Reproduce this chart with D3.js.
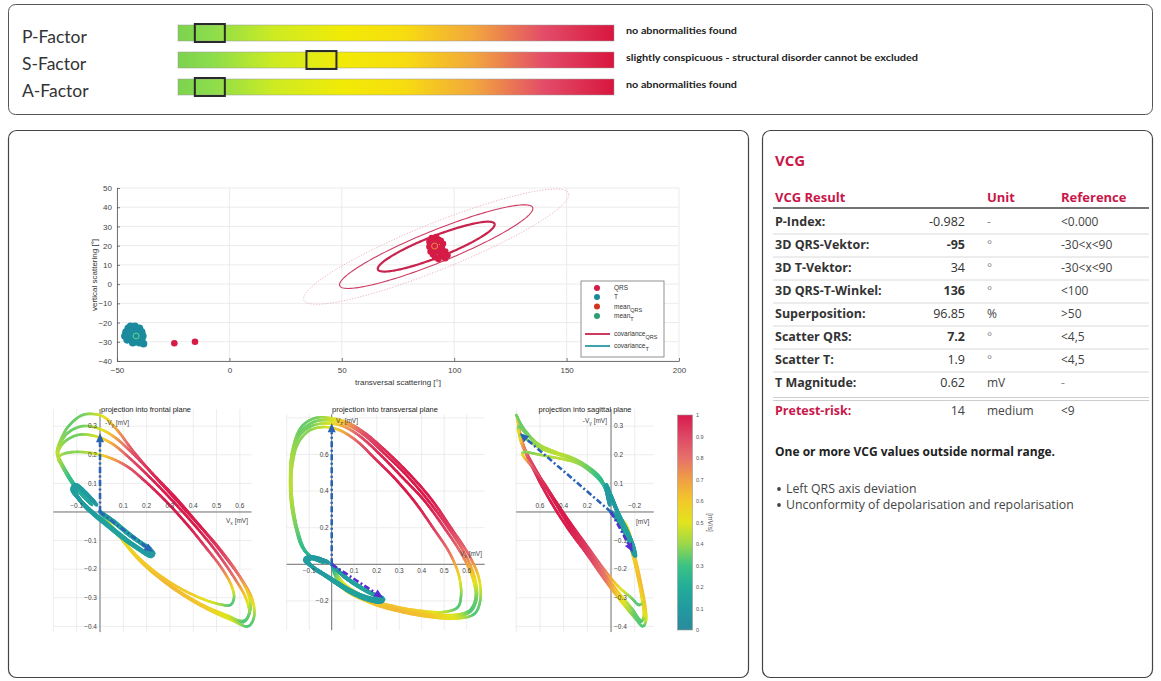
<!DOCTYPE html>
<html>
<head>
<meta charset="utf-8">
<script src="https://cdn.jsdelivr.net/npm/d3@7"></script>
<style>
  html, body { margin: 0; padding: 0; background: #ffffff; }
  svg { display: block; }
</style>
</head>
<body>
<svg id="chart" width="1161" height="681"></svg>
<script>
// ---------- data ----------
const factorNames = ['P-Factor', 'S-Factor', 'A-Factor'];
const factorScores = [0.073, 0.329, 0.073];
const factorTexts = ['no abnormalities found',
  'slightly conspicuous - structural disorder cannot be excluded',
  'no abnormalities found'];

// scatter of vector angles [transversal, vertical] in degrees
const qrsAngles = [[89,22],[90,24],[91,23.5],[92,24.5],[93,23],[94,22.5],[95,21],[94.5,19],[96,17],[97,15],[96,13.5],[94,14.5],[93,13],[91.5,14],[90.5,15.5],[89.5,17],[89,19.5],[90,20],[91,18],[92.5,17],[93.5,18.5],[92,21],[95,16],[90.5,21.5],[-24.5,-30.8],[-15.3,-30]];
const tAngles = [[-46,-25],[-45,-23],[-44,-22],[-43,-23.5],[-42,-22],[-41,-24],[-40,-23],[-39,-25],[-38.5,-27],[-39,-29],[-40,-30.5],[-41,-29],[-42,-30],[-43,-29],[-44.5,-28],[-46.5,-27],[-45,-26],[-43.5,-26],[-42,-27],[-40.5,-26.5],[-44,-24.5],[-41.5,-25],[-40,-28],[-38.2,-31],[-43,-30.5],[-45.5,-29]];
const meanQrs = [91.3, 19.8];
const meanT = [-41.5, -27];
// covariance ellipses of QRS: centre, major half-axis, vertical half-axis
const covCenter = [92, 19.5];
const covMajor = [[26, 11.5], [43, 19.8], [59, 27]];
const covMinor = [[0, 6], [0, 9], [0, 13]];
const scatterXTicks = [-50, 0, 50, 100, 150, 200];
const scatterYTicks = [-40, -30, -20, -10, 0, 10, 20, 30, 40, 50];

// VCG loops: [Vx, -Vy, Vz, speed] (mV, normalised mV/s)
const qrsLoop1 = [[0,0,0,0.15],[0.04,-0.04,-0.12,0.5],[0.17,-0.17,-0.21,0.6],[0.31,-0.265,-0.26,0.64],[0.45,-0.335,-0.29,0.6],[0.57,-0.38,-0.295,0.48],[0.635,-0.40,-0.27,0.32],[0.66,-0.37,-0.20,0.35],[0.655,-0.31,-0.08,0.55],[0.615,-0.245,0.04,0.78],[0.53,-0.15,0.20,0.92],[0.44,-0.06,0.36,1.0],[0.34,0.03,0.50,1.0],[0.24,0.12,0.62,0.97],[0.145,0.21,0.72,0.88],[0.07,0.29,0.775,0.7],[0.01,0.335,0.795,0.5],[-0.07,0.34,0.80,0.36],[-0.135,0.30,0.75,0.34],[-0.175,0.24,0.62,0.4],[-0.185,0.21,0.47,0.45],[-0.18,0.19,0.33,0.42],[-0.16,0.16,0.20,0.36],[-0.13,0.12,0.09,0.28],[-0.09,0.07,0.04,0.22],[-0.04,0.03,0.01,0.16]];
const qrsLoop2 = [[0,0,0,0.15],[0.05,-0.05,-0.11,0.5],[0.17,-0.165,-0.2,0.6],[0.30,-0.255,-0.245,0.64],[0.44,-0.325,-0.27,0.6],[0.555,-0.365,-0.275,0.48],[0.615,-0.385,-0.25,0.32],[0.64,-0.355,-0.18,0.35],[0.625,-0.30,-0.07,0.55],[0.58,-0.235,0.05,0.78],[0.50,-0.14,0.20,0.92],[0.41,-0.05,0.35,1.0],[0.31,0.04,0.48,1.0],[0.215,0.12,0.60,0.97],[0.125,0.19,0.70,0.88],[0.05,0.24,0.755,0.68],[-0.02,0.265,0.77,0.48],[-0.09,0.27,0.755,0.36],[-0.145,0.25,0.70,0.36],[-0.175,0.22,0.58,0.42],[-0.18,0.20,0.44,0.45],[-0.17,0.18,0.30,0.4],[-0.15,0.15,0.18,0.34],[-0.12,0.11,0.08,0.26],[-0.08,0.065,0.03,0.2],[-0.035,0.025,0.01,0.15]];
const qrsLoop3 = [[0,0,0,0.15],[0.05,-0.05,-0.10,0.5],[0.16,-0.155,-0.185,0.58],[0.28,-0.235,-0.23,0.62],[0.40,-0.29,-0.255,0.58],[0.50,-0.32,-0.26,0.45],[0.56,-0.325,-0.235,0.32],[0.575,-0.30,-0.17,0.35],[0.565,-0.26,-0.06,0.55],[0.525,-0.2,0.06,0.78],[0.45,-0.12,0.20,0.92],[0.37,-0.04,0.34,1.0],[0.28,0.04,0.47,1.0],[0.19,0.11,0.58,0.95],[0.115,0.16,0.67,0.85],[0.04,0.19,0.73,0.66],[-0.03,0.205,0.75,0.47],[-0.10,0.21,0.73,0.38],[-0.15,0.205,0.66,0.38],[-0.175,0.195,0.54,0.42],[-0.18,0.185,0.41,0.45],[-0.17,0.17,0.28,0.4],[-0.15,0.14,0.17,0.34],[-0.12,0.10,0.075,0.26],[-0.08,0.06,0.03,0.2],[-0.035,0.025,0.01,0.15]];
const qrsLoop4 = [[0,0,0,0.15],[0.045,-0.045,-0.115,0.5],[0.17,-0.168,-0.205,0.6],[0.305,-0.26,-0.25,0.64],[0.445,-0.33,-0.28,0.6],[0.56,-0.37,-0.285,0.48],[0.62,-0.38,-0.255,0.32],[0.645,-0.34,-0.18,0.35],[0.635,-0.285,-0.07,0.55],[0.595,-0.22,0.05,0.78],[0.515,-0.13,0.205,0.92],[0.425,-0.045,0.355,1.0],[0.33,0.045,0.49,1.0],[0.23,0.13,0.61,0.97],[0.14,0.205,0.71,0.88],[0.065,0.26,0.765,0.7],[0.0,0.29,0.785,0.48],[-0.075,0.30,0.78,0.36],[-0.14,0.275,0.72,0.35],[-0.175,0.23,0.60,0.41],[-0.183,0.205,0.455,0.45],[-0.175,0.185,0.315,0.41],[-0.155,0.155,0.19,0.35],[-0.125,0.115,0.085,0.27],[-0.085,0.068,0.035,0.21],[-0.04,0.028,0.01,0.15]];
const tLoop1 = [[0,0,0,0.1],[0.06,-0.035,-0.07,0.13],[0.12,-0.075,-0.12,0.16],[0.18,-0.11,-0.16,0.15],[0.225,-0.14,-0.185,0.12],[0.215,-0.15,-0.20,0.1],[0.16,-0.125,-0.19,0.12],[0.09,-0.085,-0.155,0.14],[0.03,-0.045,-0.11,0.14],[-0.03,-0.005,-0.06,0.12],[-0.08,0.035,-0.02,0.1],[-0.11,0.075,0.02,0.12],[-0.10,0.09,0.035,0.12],[-0.06,0.065,0.03,0.1],[-0.02,0.03,0.015,0.08]];
const tLoop2 = [[0,0,0,0.1],[0.055,-0.03,-0.065,0.13],[0.115,-0.07,-0.115,0.16],[0.17,-0.105,-0.155,0.15],[0.215,-0.13,-0.18,0.12],[0.20,-0.14,-0.19,0.1],[0.145,-0.115,-0.175,0.12],[0.08,-0.075,-0.14,0.14],[0.02,-0.035,-0.095,0.14],[-0.04,0.005,-0.05,0.12],[-0.09,0.045,-0.01,0.1],[-0.12,0.08,0.025,0.12],[-0.105,0.095,0.04,0.12],[-0.065,0.07,0.035,0.1],[-0.025,0.035,0.015,0.08]];
const tLoop3 = [[0,0,0,0.1],[0.065,-0.04,-0.075,0.13],[0.125,-0.08,-0.125,0.16],[0.185,-0.115,-0.165,0.15],[0.23,-0.145,-0.19,0.12],[0.22,-0.155,-0.205,0.1],[0.165,-0.13,-0.195,0.12],[0.095,-0.09,-0.16,0.14],[0.035,-0.05,-0.115,0.14],[-0.025,-0.01,-0.065,0.12],[-0.075,0.03,-0.025,0.1],[-0.105,0.07,0.015,0.12],[-0.095,0.085,0.03,0.12],[-0.055,0.06,0.025,0.1],[-0.015,0.025,0.01,0.08]];
const qrsVector = [0, 0.275, 0.77];
const tVector = [0.228, -0.14, -0.183];

const speedTicks = [0, 0.1, 0.2, 0.3, 0.4, 0.5, 0.6, 0.7, 0.8, 0.9, 1];
const speedColors = ['#2b8a9c','#229aa0','#22ad98','#3cc285','#9bd84a','#e2e41e','#f3c82a','#ef9f44','#e6706a','#de4766','#d81c4c'];

const vcgLabels = ['P-Index:', '3D QRS-Vektor:', '3D T-Vektor:', '3D QRS-T-Winkel:', 'Superposition:', 'Scatter QRS:', 'Scatter T:', 'T Magnitude:'];
const vcgValues = ['-0.982', '-95', '34', '136', '96.85', '7.2', '1.9', '0.62'];
const vcgBold = [false, true, false, true, false, true, false, false];
const vcgUnits = ['-', '°', '°', '°', '%', '°', '°', 'mV'];
const vcgRefs = ['<0.000', '-30<x<90', '-30<x<90', '<100', '>50', '<4,5', '<4,5', '-'];
const riskRow = ['Pretest-risk:', '14', 'medium', '<9'];
const findings = ['Left QRS axis deviation', 'Unconformity of depolarisation and repolarisation'];

// ---------- drawing ----------
const svg = d3.select('#chart');
const defs = svg.append('defs');
const CRIMSON = '#c8174a';
const sansUI = 'Lato, "Open Sans", sans-serif';
const sansTable = '"Open Sans", Lato, sans-serif';
const sansPlot = '"Liberation Sans", Arial, sans-serif';

// panels
svg.append('rect').attr('x', 8.5).attr('y', 4.5).attr('width', 1144).attr('height', 110)
  .attr('rx', 7).attr('fill', 'none').attr('stroke', '#555').attr('stroke-width', 1);
svg.append('rect').attr('x', 8.5).attr('y', 130.5).attr('width', 740).attr('height', 547)
  .attr('rx', 8).attr('fill', 'none').attr('stroke', '#444').attr('stroke-width', 1.2);
svg.append('rect').attr('x', 762.5).attr('y', 130.5).attr('width', 390).attr('height', 547)
  .attr('rx', 8).attr('fill', 'none').attr('stroke', '#444').attr('stroke-width', 1.2);

// ---- factor bars ----
const barGrad = defs.append('linearGradient').attr('id', 'barGrad');
[[0, '#7dd24e'], [0.08, '#8ddd4c'], [0.22, '#cdeb22'], [0.38, '#f2ea06'], [0.52, '#f7dc10'],
 [0.68, '#f2a63e'], [0.84, '#e34c68'], [1, '#d8163e']].forEach(s =>
  barGrad.append('stop').attr('offset', s[0]).attr('stop-color', s[1]));

const barX = d3.scaleLinear().domain([0, 1]).range([178, 614]);
const barY = d3.scaleBand().domain(factorNames).range([25, 95]).paddingInner(11 / 27).paddingOuter(0);
factorNames.forEach((name, i) => {
  const y = barY(name);
  const h = barY.bandwidth();
  svg.append('text').attr('x', 22).attr('y', y + h / 2 + 10).text(name)
    .attr('font-family', sansUI).attr('font-size', 17.5).attr('fill', '#333');
  svg.append('rect').attr('x', barX(0)).attr('y', y).attr('width', barX(1) - barX(0)).attr('height', h)
    .attr('fill', 'url(#barGrad)').attr('stroke', '#9a9a9a').attr('stroke-width', 0.5);
  const w = 30;
  svg.append('rect').attr('x', barX(factorScores[i]) - w / 2).attr('y', y - 1).attr('width', w).attr('height', h + 2)
    .attr('fill', 'none').attr('stroke', '#2a2a2a').attr('stroke-width', 2);
  const t = svg.append('text').attr('x', 626).attr('y', y + 8.5).text(factorTexts[i])
    .attr('font-family', sansUI).attr('font-size', 9.5).attr('font-weight', 700).attr('fill', '#222');
  t.attr('textLength', i === 1 ? 292 : 111).attr('lengthAdjust', 'spacingAndGlyphs');
});

// ---- scatter plot of angles ----
const sx = d3.scaleLinear().domain([-50, 200]).range([117, 679]);
const sy = d3.scaleLinear().domain([-40, 50]).range([361, 188]);
const sc = svg.append('g');
sc.append('g').selectAll('line').data(scatterXTicks).join('line')
  .attr('x1', d => sx(d)).attr('x2', d => sx(d)).attr('y1', sy(-40)).attr('y2', sy(50))
  .attr('stroke', '#e6e6e6').attr('stroke-width', 0.8);
sc.append('g').selectAll('line').data(scatterYTicks).join('line')
  .attr('x1', sx(-50)).attr('x2', sx(200)).attr('y1', d => sy(d)).attr('y2', d => sy(d))
  .attr('stroke', '#e6e6e6').attr('stroke-width', 0.8);

const xAxis = d3.axisBottom(sx).tickValues(scatterXTicks).tickSizeInner(-3).tickSizeOuter(0).tickPadding(6);
const yAxis = d3.axisLeft(sy).tickValues(scatterYTicks).tickSizeInner(-3).tickSizeOuter(0).tickPadding(5);
const gx = sc.append('g').attr('transform', `translate(0,${sy(-40)})`).call(xAxis);
const gy = sc.append('g').attr('transform', `translate(${sx(-50)},0)`).call(yAxis);
[gx, gy].forEach(g => {
  g.select('.domain').attr('stroke', '#555').attr('stroke-width', 0.8);
  g.selectAll('.tick line').attr('stroke', '#555').attr('stroke-width', 0.8);
  g.selectAll('.tick text').attr('font-family', sansPlot).attr('font-size', 8).attr('fill', '#444');
});
sc.append('text').attr('x', 398).attr('y', 385).attr('text-anchor', 'middle')
  .attr('font-family', sansPlot).attr('font-size', 8).attr('fill', '#333').text('transversal scattering  [°]');
sc.append('text').attr('transform', `translate(97,275) rotate(-90)`).attr('text-anchor', 'middle')
  .attr('font-family', sansPlot).attr('font-size', 8).attr('fill', '#333').text('vertical scattering [°]');

// covariance ellipses (drawn as parametric curves in data space)
const ellStyles = [
  { w: 2.2, c: '#c8244e', dash: null },
  { w: 1.1, c: '#cf3c62', dash: null },
  { w: 0.9, c: '#e7a9b8', dash: '1.2,1.6' }
];
const tSteps = d3.range(0, 2 * Math.PI + 0.001, Math.PI / 90);
covMajor.forEach((a, k) => {
  const b = covMinor[k];
  const pts = tSteps.map(t => [sx(covCenter[0] + a[0] * Math.cos(t) + b[0] * Math.sin(t)),
                               sy(covCenter[1] + a[1] * Math.cos(t) + b[1] * Math.sin(t))]);
  sc.append('path').attr('d', d3.line()(pts)).attr('fill', 'none')
    .attr('stroke', ellStyles[k].c).attr('stroke-width', ellStyles[k].w)
    .attr('stroke-dasharray', ellStyles[k].dash);
});
sc.append('g').selectAll('circle').data(tAngles).join('circle')
  .attr('cx', d => sx(d[0])).attr('cy', d => sy(d[1])).attr('r', 3.8).attr('fill', '#1b8a9d');
sc.append('g').selectAll('circle').data(qrsAngles).join('circle')
  .attr('cx', d => sx(d[0])).attr('cy', d => sy(d[1])).attr('r', 3.3).attr('fill', '#d41c46');
sc.append('circle').attr('cx', sx(meanQrs[0])).attr('cy', sy(meanQrs[1])).attr('r', 3)
  .attr('fill', 'none').attr('stroke', '#f08a3a').attr('stroke-width', 1);
sc.append('circle').attr('cx', sx(meanT[0])).attr('cy', sy(meanT[1])).attr('r', 3)
  .attr('fill', 'none').attr('stroke', '#5ed88a').attr('stroke-width', 1);

// legend
const lg = sc.append('g').attr('transform', 'translate(581,281)');
lg.append('rect').attr('width', 83).attr('height', 76).attr('fill', '#fff').attr('stroke', '#777').attr('stroke-width', 0.8);
const legendItems = [
  { type: 'dot', c: '#d41c46', t: 'QRS', sub: '' },
  { type: 'dot', c: '#1b8a9d', t: 'T', sub: '' },
  { type: 'dot', c: '#d2341e', t: 'mean', sub: 'QRS' },
  { type: 'dot', c: '#2aa070', t: 'mean', sub: 'T' },
  { type: 'line', c: '#c8244e', t: 'covariance', sub: 'QRS' },
  { type: 'line', c: '#2a9aa0', t: 'covariance', sub: 'T' }
];
const legendY = [7, 16, 25.5, 35, 53, 65];
legendItems.forEach((it, i) => {
  const y = legendY[i];
  if (it.type === 'dot') {
    lg.append('circle').attr('cx', 16).attr('cy', y).attr('r', 3).attr('fill', it.c);
  } else {
    lg.append('line').attr('x1', 4).attr('x2', 29).attr('y1', y).attr('y2', y)
      .attr('stroke', it.c).attr('stroke-width', 1.8);
  }
  const tx = lg.append('text').attr('x', 33).attr('y', y + 2).attr('font-family', sansPlot)
    .attr('font-size', 6.5).attr('fill', '#333');
  tx.append('tspan').text(it.t);
  if (it.sub) tx.append('tspan').attr('dy', 3).attr('font-size', 5.5).text(it.sub);
});

// ---- projections of the loops ----
const speedColor = d3.scaleLinear().domain(speedTicks).range(speedColors).clamp(true);
const qrsLoops = [qrsLoop1, qrsLoop4, qrsLoop2, qrsLoop3];
const tLoops = [tLoop1, tLoop2, tLoop3];

const planes = [
  { title: 'projection into frontal plane', titleX: 146, xi: 0, yi: 1,
    xDom: [-0.2, 0.65], xRng: [53.4, 251.5], yDom: [-0.42, 0.36], yRng: [632.1, 409],
    gridX: [-0.2, -0.1, 0, 0.1, 0.2, 0.3, 0.4, 0.5, 0.6], gridY: [-0.4, -0.3, -0.2, -0.1, 0, 0.1, 0.2, 0.3],
    xLab: [-0.1, 0.1, 0.2, 0.3, 0.4, 0.5, 0.6], yLab: [-0.4, -0.3, -0.2, -0.1, 0.1, 0.2, 0.3],
    xLabAbove: true, yLabRight: false, tColor: '#2a63b5',
    yName: ['-V', 'y', ' [mV]'], yNamePos: [105, 425, 'start'],
    xName: ['V', 'x', ' [mV]'], xNamePos: [248, 523, 'end'] },
  { title: 'projection into transversal plane', titleX: 385, xi: 0, yi: 2,
    xDom: [-0.2, 0.68], xRng: [286.7, 484.7], yDom: [-0.36, 0.82], yRng: [630.2, 414.2],
    gridX: [-0.2, -0.1, 0, 0.1, 0.2, 0.3, 0.4, 0.5, 0.6], gridY: [-0.2, 0, 0.2, 0.4, 0.6, 0.8],
    xLab: [-0.1, 0.1, 0.2, 0.3, 0.4, 0.5, 0.6], yLab: [-0.2, 0.2, 0.4, 0.6],
    xLabAbove: false, yLabRight: false, tColor: '#5a2bd0',
    yName: ['V', 'z', ' [mV]'], yNamePos: [336, 423, 'start'],
    xName: ['V', 'x', ' [mV]'], xNamePos: [482, 556, 'end'] },
  { title: 'projection into sagittal plane', titleX: 585, xi: 2, yi: 1,
    xDom: [0.8, -0.36], xRng: [516.2, 653.7], yDom: [-0.42, 0.36], yRng: [632.1, 409],
    gridX: [0.8, 0.6, 0.4, 0.2, 0, -0.2], gridY: [-0.4, -0.3, -0.2, -0.1, 0, 0.1, 0.2, 0.3],
    xLab: [0.6, 0.4, 0.2, -0.2], yLab: [-0.4, -0.3, -0.2, -0.1, 0.1, 0.2, 0.3],
    xLabAbove: true, yLabRight: true, tColor: '#5a2bd0',
    yName: ['-V', 'y', ' [mV]'], yNamePos: [607, 423, 'end'],
    xName: ['', '', '[mV]'], xNamePos: [636, 524, 'start'] }
];

function drawColoredPath(g, pts, speeds, width) {
  const gen = d3.line().curve(d3.curveCatmullRom.alpha(0.5));
  const probe = g.append('path').attr('d', gen(pts)).attr('fill', 'none');
  const node = probe.node();
  const L = node.getTotalLength();
  const cum = [0];
  for (let i = 1; i < pts.length; i++) cum.push(cum[i - 1] + Math.hypot(pts[i][0] - pts[i - 1][0], pts[i][1] - pts[i - 1][1]));
  const total = cum[cum.length - 1] || 1;
  const speedAt = d3.scaleLinear().domain(cum).range(speeds).clamp(true);
  const n = Math.max(2, Math.ceil(L / 2));
  let prev = node.getPointAtLength(0);
  const seg = g.append('g').attr('stroke-linecap', 'round').attr('fill', 'none');
  for (let k = 1; k <= n; k++) {
    const l = L * k / n;
    const p = node.getPointAtLength(l);
    const s = speedAt(((l - L / n / 2) / L) * total);
    seg.append('line').attr('x1', prev.x).attr('y1', prev.y).attr('x2', p.x).attr('y2', p.y)
      .attr('stroke', speedColor(s)).attr('stroke-width', width);
    prev = p;
  }
  probe.remove();
}

function drawArrow(g, x0, y0, x1, y1, color) {
  const ang = Math.atan2(y1 - y0, x1 - x0);
  const len = 9, half = 4;
  const bx = x1 - len * Math.cos(ang), by = y1 - len * Math.sin(ang);
  g.append('line').attr('x1', x0).attr('y1', y0).attr('x2', bx).attr('y2', by)
    .attr('stroke', color).attr('stroke-width', 2.6).attr('stroke-dasharray', '6,2.5,2,2.5');
  const pts = [[x1, y1],
    [bx + half * Math.sin(ang), by - half * Math.cos(ang)],
    [bx - half * Math.sin(ang), by + half * Math.cos(ang)]];
  g.append('polygon').attr('points', pts.map(p => p.join(',')).join(' ')).attr('fill', color);
}

planes.forEach(pl => {
  const x = d3.scaleLinear().domain(pl.xDom).range(pl.xRng);
  const y = d3.scaleLinear().domain(pl.yDom).range(pl.yRng);
  const g = svg.append('g');
  const [x0, x1] = pl.xRng, [y0, y1] = pl.yRng;
  g.append('g').selectAll('line').data(pl.gridX).join('line')
    .attr('x1', d => x(d)).attr('x2', d => x(d)).attr('y1', y0).attr('y2', y1)
    .attr('stroke', '#e8e8e8').attr('stroke-width', 0.8);
  g.append('g').selectAll('line').data(pl.gridY).join('line')
    .attr('x1', x0).attr('x2', x1).attr('y1', d => y(d)).attr('y2', d => y(d))
    .attr('stroke', '#e8e8e8').attr('stroke-width', 0.8);
  // axes through the origin
  g.append('line').attr('x1', x0).attr('x2', x1).attr('y1', y(0)).attr('y2', y(0)).attr('stroke', '#666').attr('stroke-width', 0.9);
  g.append('line').attr('x1', x(0)).attr('x2', x(0)).attr('y1', y0).attr('y2', y1).attr('stroke', '#666').attr('stroke-width', 0.9);
  g.append('text').attr('x', pl.titleX).attr('y', 412).attr('text-anchor', 'middle')
    .attr('font-family', sansPlot).attr('font-size', 7.5).attr('fill', '#222').text(pl.title);

  // loops
  const loopG = g.append('g');
  qrsLoops.forEach(loop => {
    drawColoredPath(loopG, loop.map(p => [x(p[pl.xi]), y(p[pl.yi])]), loop.map(p => p[3]), 2.6);
  });
  tLoops.forEach(loop => {
    drawColoredPath(loopG, loop.map(p => [x(p[pl.xi]), y(p[pl.yi])]), loop.map(p => p[3]), 3.8);
  });

  // tick labels
  const fmt = d3.format('.1f');
  g.append('g').selectAll('text').data(pl.xLab).join('text')
    .attr('x', d => x(d)).attr('y', pl.xLabAbove ? y(0) - 4 : y(0) + 9).attr('text-anchor', 'middle')
    .attr('font-family', sansPlot).attr('font-size', 6.5).attr('fill', '#444').text(d => fmt(d));
  g.append('g').selectAll('text').data(pl.yLab).join('text')
    .attr('x', pl.yLabRight ? x(0) + 3 : x(0) - 3).attr('y', d => y(d) + 2.3)
    .attr('text-anchor', pl.yLabRight ? 'start' : 'end')
    .attr('font-family', sansPlot).attr('font-size', 6.5).attr('fill', '#444').text(d => fmt(d));
  [[pl.yName, pl.yNamePos], [pl.xName, pl.xNamePos]].forEach(([nm, pos]) => {
    const t = g.append('text').attr('x', pos[0]).attr('y', pos[1]).attr('text-anchor', pos[2])
      .attr('font-family', sansPlot).attr('font-size', 6.5).attr('fill', '#444');
    if (nm[0]) t.append('tspan').text(nm[0]);
    if (nm[1]) t.append('tspan').attr('dy', 2).attr('font-size', 5).text(nm[1]);
    t.append('tspan').attr('dy', nm[1] ? -2 : 0).text(nm[2]);
  });

  // mean vectors
  drawArrow(g, x(0), y(0), x(qrsVector[pl.xi]), y(qrsVector[pl.yi]), '#2a63b5');
  drawArrow(g, x(0), y(0), x(tVector[pl.xi]), y(tVector[pl.yi]), pl.tColor);
});

// colour bar
const cbGrad = defs.append('linearGradient').attr('id', 'cbGrad').attr('x1', 0).attr('y1', 1).attr('x2', 0).attr('y2', 0);
speedTicks.forEach((v, i) => cbGrad.append('stop').attr('offset', v).attr('stop-color', speedColors[i]));
const cbY = d3.scaleLinear().domain([0, 1]).range([630, 415]);
svg.append('rect').attr('x', 677.5).attr('y', cbY(1)).attr('width', 15).attr('height', cbY(0) - cbY(1))
  .attr('fill', 'url(#cbGrad)').attr('stroke', '#999').attr('stroke-width', 0.6);
svg.append('g').selectAll('text').data(speedTicks).join('text')
  .attr('x', 696).attr('y', d => cbY(d) + 2).attr('font-family', sansPlot).attr('font-size', 5.5)
  .attr('fill', '#555').text(d => d === 0 || d === 1 ? d : d3.format('.1f')(d));
svg.append('text').attr('transform', `translate(708,${cbY(0.5)}) rotate(90)`).attr('text-anchor', 'middle')
  .attr('font-family', sansPlot).attr('font-size', 6.5).attr('fill', '#555').text('[mV/s]');

// ---- VCG table ----
const tb = svg.append('g').attr('font-family', sansTable);
tb.append('text').attr('x', 775).attr('y', 166).attr('font-size', 15).attr('font-weight', 700)
  .attr('fill', CRIMSON).text('VCG');
const colLabel = 775, colValue = 965, colUnit = 987, colRef = 1061;
[['VCG Result', colLabel], ['Unit', colUnit], ['Reference', colRef]].forEach(([t, xp]) =>
  tb.append('text').attr('x', xp).attr('y', 202).attr('font-size', 13).attr('font-weight', 700)
    .attr('fill', CRIMSON).text(t));
tb.append('line').attr('x1', 773).attr('x2', 1149).attr('y1', 208).attr('y2', 208).attr('stroke', '#444').attr('stroke-width', 1.6);
const rowY = d3.scaleLinear().domain([0, 1]).range([226, 249]);
vcgLabels.forEach((lab, i) => {
  const yb = rowY(i);
  tb.append('text').attr('x', colLabel).attr('y', yb).attr('font-size', 12.5).attr('font-weight', 700)
    .attr('fill', '#333').text(lab);
  tb.append('text').attr('x', colValue).attr('y', yb).attr('text-anchor', 'end').attr('font-size', 12.5)
    .attr('font-weight', vcgBold[i] ? 700 : 400).attr('fill', '#333').text(vcgValues[i]);
  tb.append('text').attr('x', colUnit).attr('y', yb).attr('font-size', 12)
    .attr('fill', vcgUnits[i] === '°' || vcgUnits[i] === '-' ? '#888' : '#444').text(vcgUnits[i]);
  tb.append('text').attr('x', colRef).attr('y', yb).attr('font-size', 12)
    .attr('fill', vcgRefs[i] === '-' ? '#888' : '#444').text(vcgRefs[i]);
  if (i < vcgLabels.length - 1) {
    tb.append('line').attr('x1', 773).attr('x2', 1149).attr('y1', yb + 8).attr('y2', yb + 8)
      .attr('stroke', '#d0d0d0').attr('stroke-width', 0.8);
  }
});
tb.append('line').attr('x1', 773).attr('x2', 1149).attr('y1', 397.5).attr('y2', 397.5).attr('stroke', '#c8c8c8').attr('stroke-width', 0.9);
tb.append('line').attr('x1', 773).attr('x2', 1149).attr('y1', 400.5).attr('y2', 400.5).attr('stroke', '#c8c8c8').attr('stroke-width', 0.9);
tb.append('text').attr('x', colLabel).attr('y', 415).attr('font-size', 12.5).attr('font-weight', 700)
  .attr('fill', CRIMSON).text(riskRow[0]);
tb.append('text').attr('x', colValue).attr('y', 415).attr('text-anchor', 'end').attr('font-size', 12.5)
  .attr('fill', '#444').text(riskRow[1]);
tb.append('text').attr('x', colUnit).attr('y', 415).attr('font-size', 12).attr('fill', '#444').text(riskRow[2]);
tb.append('text').attr('x', colRef).attr('y', 415).attr('font-size', 12).attr('fill', '#444').text(riskRow[3]);

tb.append('text').attr('x', 775).attr('y', 456).attr('font-size', 12).attr('font-weight', 700)
  .attr('fill', '#222').text('One or more VCG values outside normal range.');
findings.forEach((f, i) => {
  const yb = 493 + i * 16;
  tb.append('circle').attr('cx', 779).attr('cy', yb - 4).attr('r', 1.9).attr('fill', '#444');
  tb.append('text').attr('x', 786).attr('y', yb).attr('font-size', 12.3).attr('fill', '#444').text(f);
});
</script>
</body>
</html>
